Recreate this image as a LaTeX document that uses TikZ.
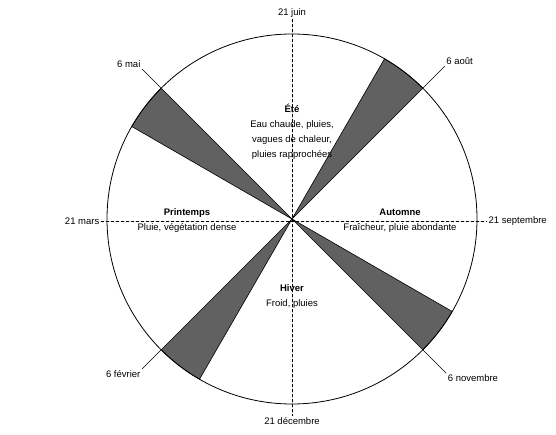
\documentclass[tikz,border=0pt]{standalone}
\usepackage{fontspec}
\setmainfont{Liberation Sans}
\tikzset{
  wedge/.style={fill=black!62, draw=black, line width=0.6pt},
  axis/.style={dashed, line width=0.4pt, dash pattern=on 3pt off 2pt},
  season/.style={align=center, font=\fontsize{9.5}{15}\selectfont},
  datelbl/.style={font=\fontsize{9.5}{11}\selectfont, inner sep=1.5pt}
}
\begin{document}
\begin{tikzpicture}[x=1pt, y=1pt, line cap=round]
  \useasboundingbox (0,0) rectangle (556,434);
  \coordinate (O) at (292,215);
  % axes
  \node[datelbl] (juin) at (292,421) {21 juin};
  \node[datelbl] (dec) at (292,13) {21 d\'ecembre};
  \node[datelbl, anchor=east] (mars) at (101,213) {21 mars};
  \node[datelbl, anchor=west] (sept) at (487,213) {21 septembre};
  \draw[axis] (juin) -- (dec);
  \draw[axis] (mars) -- (sept);
  % transition wedges
  \foreach \a in {135,45,-45,225}
    \filldraw[wedge] (O) -- ++(\a:185) arc[start angle=\a, end angle=\a+15, radius=185] -- cycle;
  \draw[line width=0.8pt] (O) circle (185);
  % cross-quarter days
  \path (O) ++(135:185) coordinate (c1) (O) ++(45:185) coordinate (c2)
        (O) ++(-45:185) coordinate (c3) (O) ++(225:185) coordinate (c4);
  \path (O) ++(135:212) node[datelbl, anchor=south east] (mai) {6 mai};
  \path (O) ++(45:216) node[datelbl, anchor=south west] (aout) {6 ao\^ut};
  \path (O) ++(-45:218) node[datelbl, anchor=north west] (nov) {6 novembre};
  \path (O) ++(225:212) node[datelbl, anchor=north east] (fev) {6 f\'evrier};
  \draw[line width=0.5pt] (c1) -- (mai.south east);
  \draw[line width=0.5pt] (c2) -- (aout.south west);
  \draw[line width=0.5pt] (c3) -- (nov.north west);
  \draw[line width=0.5pt] (c4) -- (fev.north east);
  % seasons
  \node[season] (ete) at (292,302) {\textbf{\'Et\'e}\\Eau chaude, pluies,\\vagues de chaleur,\\pluies rapproch\'ees};
  \node[season] (print) at (187,213) {\textbf{Printemps}\\Pluie, v\'eg\'etation dense};
  \node[season] (aut) at (400,213) {\textbf{Automne}\\Fra\^icheur, pluie abondante};
  \node[season] (hiv) at (292,137) {\textbf{Hiver}\\Froid, pluies};
\end{tikzpicture}
\end{document}
